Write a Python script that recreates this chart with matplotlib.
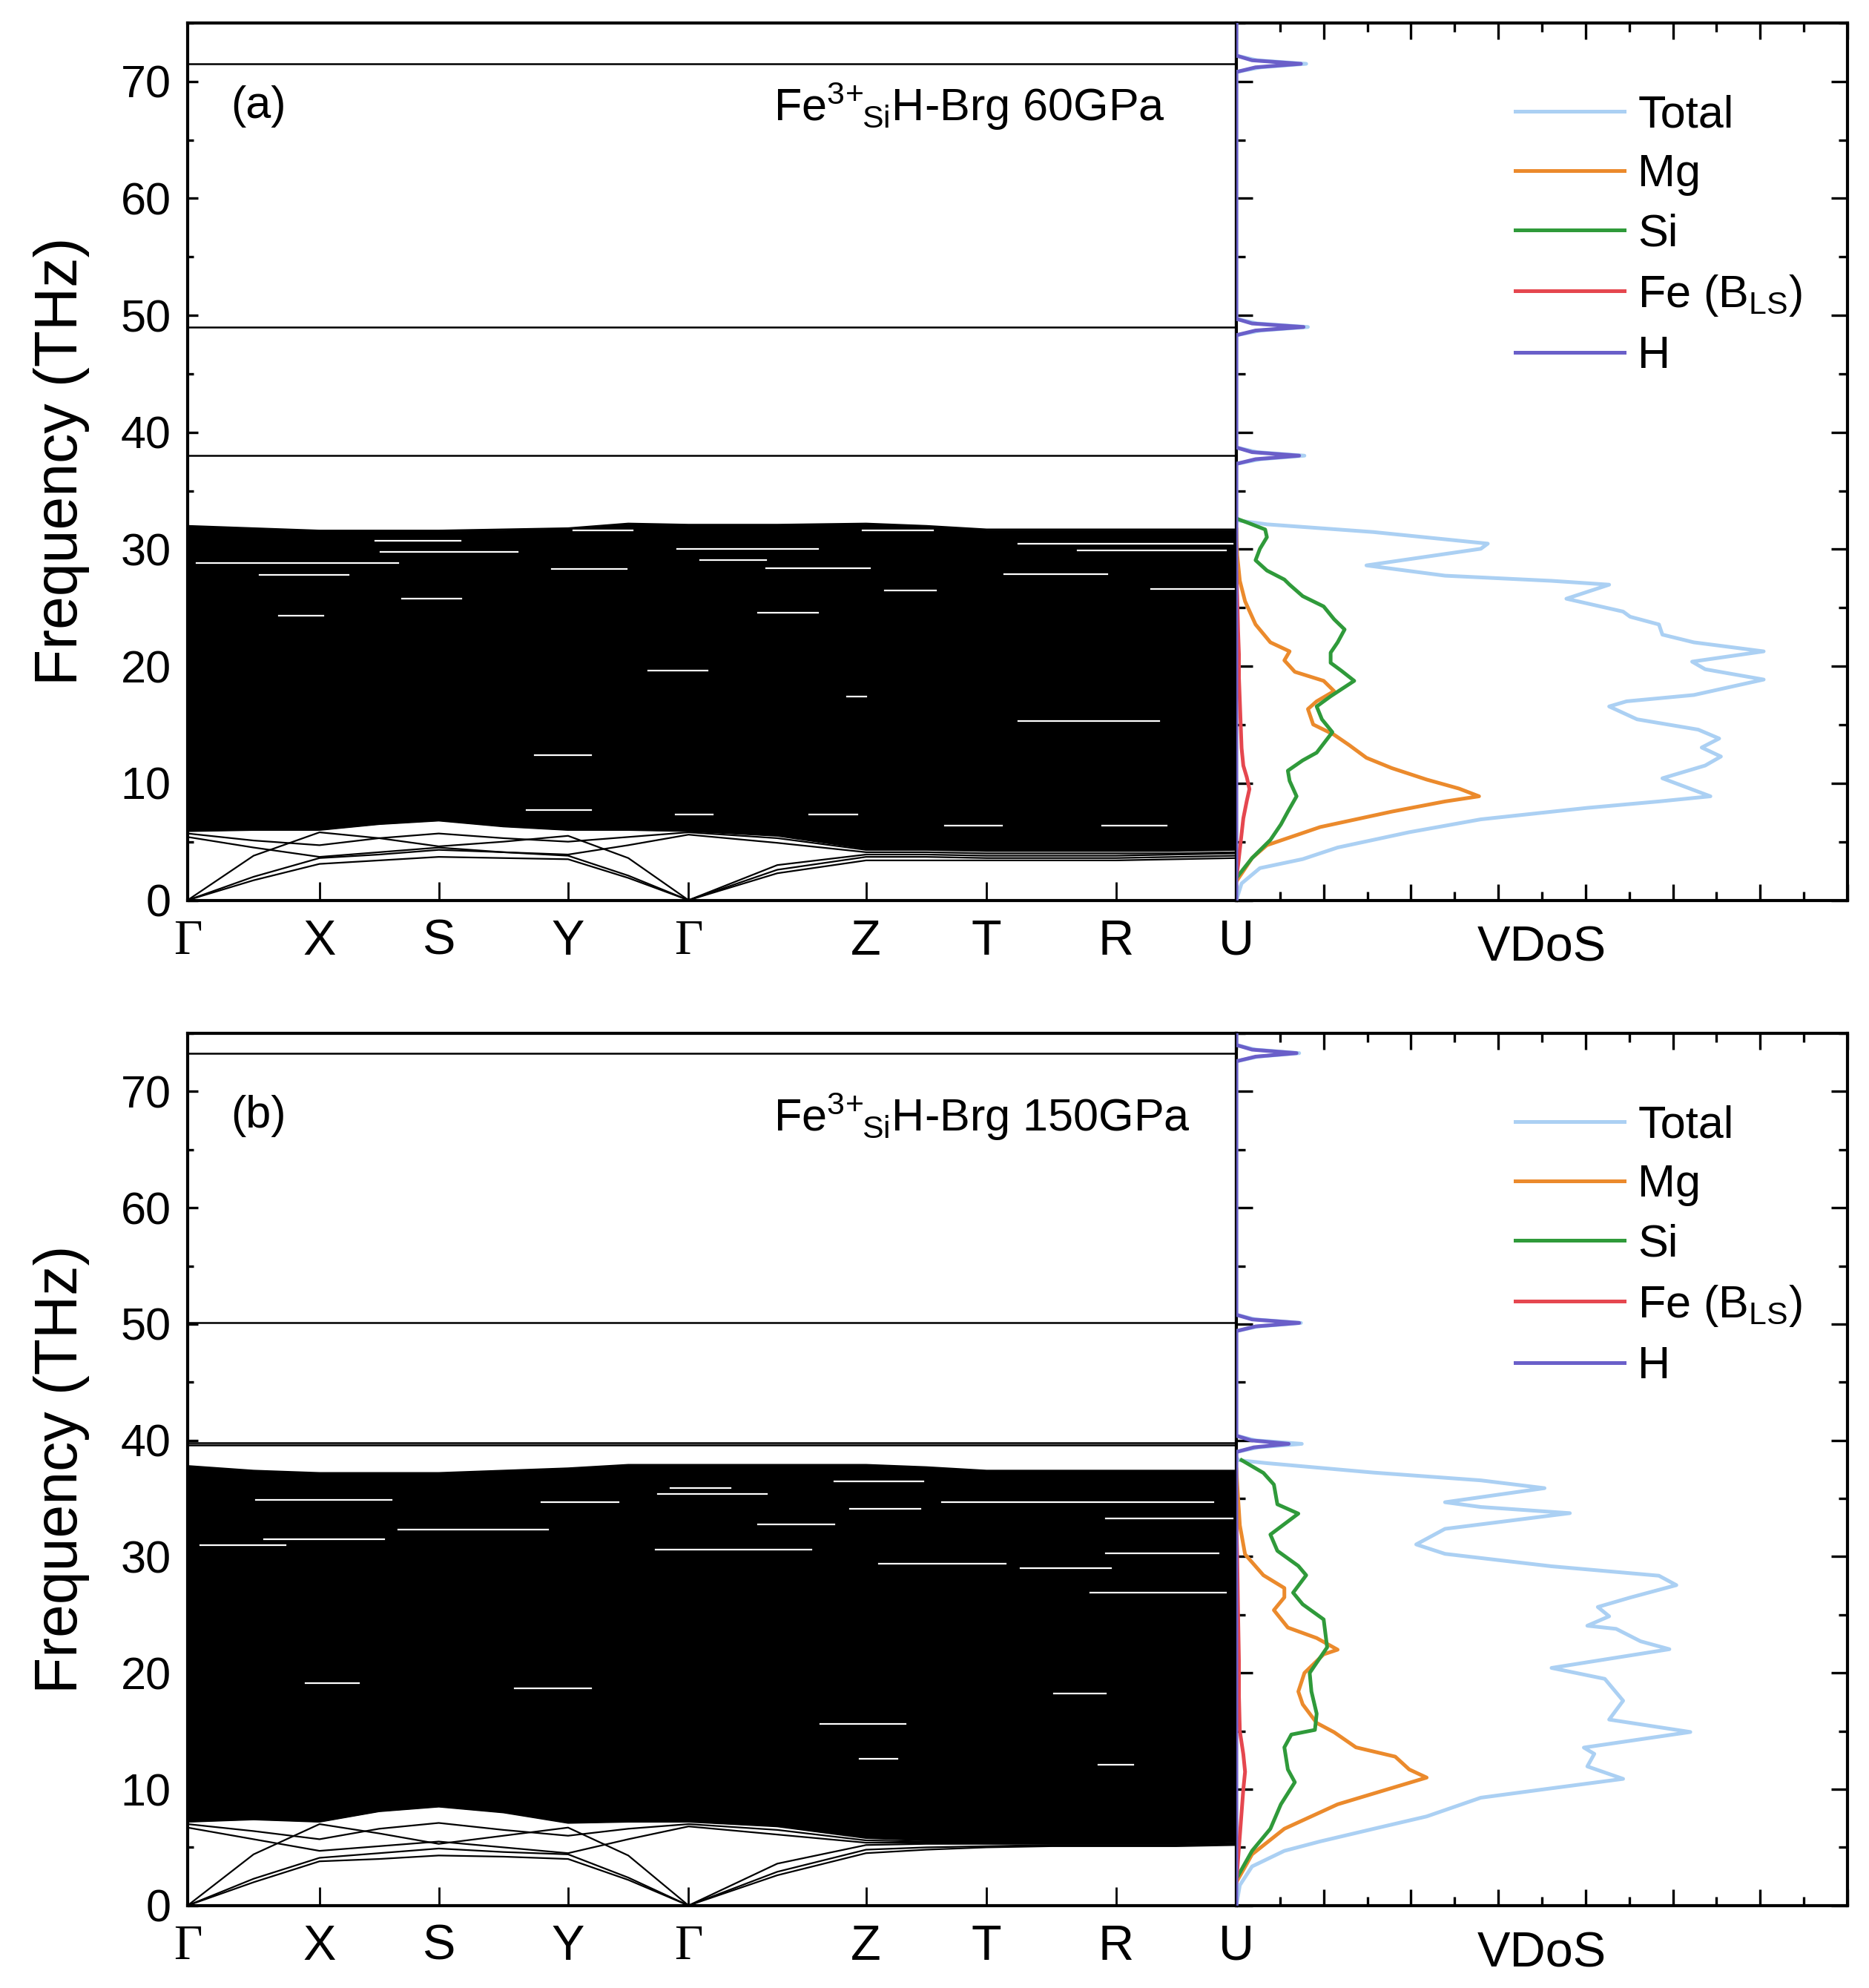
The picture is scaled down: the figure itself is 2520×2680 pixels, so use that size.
import numpy as np
import matplotlib
matplotlib.use("Agg")
import matplotlib.pyplot as plt
from matplotlib.ticker import MultipleLocator

plt.rcParams['font.family'] = ['Liberation Sans', 'DejaVu Sans']
plt.rcParams['mathtext.fontset'] = 'custom'
plt.rcParams['mathtext.rm'] = 'Liberation Sans'
plt.rcParams['mathtext.it'] = 'Liberation Sans:italic'
plt.rcParams['mathtext.bf'] = 'Liberation Sans:bold'

# ---------------- high-symmetry path ----------------
kpath_labels = ['Γ', 'X', 'S', 'Y', 'Γ', 'Z', 'T', 'R', 'U']
kpath_pos = [0, 1.04, 1.98, 3.00, 3.95, 5.35, 6.30, 7.32, 8.27]

# ---------------- (a) 60 GPa : phonon bands ----------------
# band values at the 17 nodes (high-symmetry points + segment midpoints)
bands_low_a = [
    [0, 1.7, 3.1, 3.4, 3.7, 3.6, 3.5, 1.9, 0, 2.3, 3.4, 3.4, 3.4, 3.4, 3.4, 3.5, 3.6],
    [0, 2.0, 3.6, 3.9, 4.3, 4.1, 3.8, 2.1, 0, 2.6, 3.7, 3.7, 3.6, 3.6, 3.6, 3.7, 3.8],
    [0, 3.8, 5.8, 5.3, 4.6, 5.0, 5.5, 3.6, 0, 3.0, 3.9, 3.9, 3.8, 3.8, 3.8, 3.9, 4.0],
    [5.4, 4.5, 3.7, 4.1, 4.5, 4.1, 3.9, 4.7, 5.6, 4.9, 4.1, 4.1, 4.0, 4.0, 4.0, 4.0, 4.1],
    [5.7, 5.1, 4.7, 5.3, 5.7, 5.3, 5.0, 5.4, 5.8, 5.3, 4.3, 4.3, 4.2, 4.2, 4.2, 4.2, 4.3],
]
block_low_a = [5.9, 6.0, 6.0, 6.5, 6.8, 6.3, 6.0, 6.0, 5.9, 5.5, 4.4, 4.4, 4.3, 4.3, 4.3, 4.3, 4.4]
block_top_a = [32.0, 31.8, 31.6, 31.6, 31.6, 31.7, 31.8, 32.2, 32.1, 32.1, 32.2, 32.0, 31.7, 31.7, 31.7, 31.7, 31.7]
flat_a = [38.0, 49.0, 71.5]
# small gaps inside the dense band region: (k start, k end, frequency)
gaps_a = [
    (1.48, 2.15, 30.7), (1.52, 2.60, 29.8), (0.07, 1.66, 28.8), (0.57, 1.27, 27.8),
    (3.86, 4.97, 30.0), (4.04, 4.56, 29.1), (4.56, 5.38, 28.4), (5.32, 5.88, 31.6),
    (6.55, 8.24, 30.5), (7.02, 8.19, 29.9), (6.44, 7.25, 27.9), (7.60, 8.27, 26.6),
    (2.87, 3.46, 28.3), (3.04, 3.51, 31.6), (0.72, 1.07, 24.3), (1.69, 2.16, 25.8),
    (4.50, 4.97, 24.6), (5.50, 5.90, 26.5), (2.74, 3.18, 12.4), (3.63, 4.10, 19.6),
    (6.55, 7.66, 15.3), (5.20, 5.35, 17.4), (2.67, 3.18, 7.7), (4.90, 5.28, 7.3),
    (5.97, 6.42, 6.4), (7.21, 7.72, 6.4), (3.85, 4.14, 7.3),
]

# ---------------- (a) 60 GPa : VDoS ----------------
tot_f_a = [0, 1.43, 2.74, 3.51, 4.50, 5.81, 6.91, 7.89, 8.44, 8.88, 10.42, 11.51, 12.28, 13.05,
           13.82, 14.58, 15.46, 16.56, 17.0, 17.54, 18.86, 19.74, 20.39, 21.27, 22.04, 22.70,
           23.57, 24.23, 24.67, 25.77, 26.97, 27.30, 27.74, 28.62, 30.04, 30.48, 31.47, 32.13,
           32.46, 32.8, 37.3, 37.7, 38.0, 38.3, 38.7, 48.3, 48.7, 49.0, 49.3, 49.7, 70.8, 71.2,
           71.5, 71.8, 72.2, 75]
tot_d_a = [0, 0.06, 0.27, 0.76, 1.16, 1.98, 2.80, 4.02, 4.84, 5.43, 4.88, 5.37, 5.55, 5.33,
           5.53, 5.29, 4.59, 4.27, 4.47, 5.24, 6.04, 5.37, 5.22, 6.04, 5.24, 4.88,
           4.84, 4.51, 4.43, 3.78, 4.27, 3.61, 2.39, 1.49, 2.80, 2.88, 1.57, 0.35,
           0.02, 0, 0, 0.28, 0.78, 0.24, 0, 0, 0.28, 0.82, 0.24, 0, 0, 0.28,
           0.80, 0.24, 0, 0]
mg_f_a = [1.6, 3.6, 4.7, 6.25, 7.57, 8.44, 8.88, 9.54, 10.31, 11.29, 12.17, 13.27, 14.14, 15.02,
          16.34, 17.0, 17.87, 18.75, 19.52, 20.50, 21.27, 22.04, 23.57, 25.55, 27.30, 29.5, 31.7]
mg_d_a = [0, 0.18, 0.35, 0.96, 1.78, 2.39, 2.78, 2.55, 2.18, 1.78, 1.49, 1.29, 1.12, 0.88,
          0.82, 0.92, 1.12, 1.0, 0.67, 0.55, 0.61, 0.39, 0.22, 0.10, 0.04, 0.01, 0]
si_f_a = [1.9, 3.6, 5.15, 6.47, 7.57, 8.88, 10.2, 11.07, 11.95, 12.61, 14.36, 15.46, 16.56, 17.43,
          18.75, 19.63, 20.29, 21.16, 22.04, 23.14, 24.01, 25.11, 25.99, 26.97, 27.41, 28.18,
          29.06, 30.04, 31.03, 31.69, 32.24, 32.57]
si_d_a = [0, 0.18, 0.39, 0.51, 0.59, 0.69, 0.61, 0.59, 0.76, 0.92, 1.10, 0.98, 0.92, 1.08,
          1.35, 1.20, 1.08, 1.08, 1.16, 1.24, 1.12, 1.0, 0.76, 0.61, 0.55, 0.35,
          0.22, 0.27, 0.35, 0.33, 0.14, 0.02]
fe_f_a = [2, 3, 5, 7, 8.5, 9.5, 10.5, 11.5, 13, 15, 17, 19, 21, 23, 26, 28]
fe_d_a = [0, 0.02, 0.05, 0.08, 0.12, 0.15, 0.12, 0.08, 0.06, 0.05, 0.04, 0.03, 0.03, 0.02, 0.01, 0]
h_f_a = [0, 37.3, 37.7, 38.0, 38.3, 38.7, 48.3, 48.7, 49.0, 49.3, 49.7, 70.8, 71.2, 71.5, 71.8, 72.2, 75]
h_d_a = [0, 0, 0.22, 0.72, 0.18, 0, 0, 0.22, 0.77, 0.18, 0, 0, 0.22, 0.74, 0.18, 0, 0]

# ---------------- (b) 150 GPa : phonon bands ----------------
bands_low_b = [
    [0, 2.0, 3.8, 4.0, 4.3, 4.2, 4.0, 2.2, 0, 2.6, 4.5, 4.8, 5.0, 5.1, 5.1, 5.1, 5.2],
    [0, 2.3, 4.1, 4.5, 4.9, 4.6, 4.4, 2.4, 0, 2.9, 4.8, 5.0, 5.1, 5.2, 5.2, 5.2, 5.3],
    [0, 4.4, 7.0, 6.2, 5.3, 6.0, 6.7, 4.3, 0, 3.6, 5.2, 5.3, 5.3, 5.3, 5.3, 5.3, 5.4],
    [6.7, 5.7, 4.7, 5.1, 5.5, 5.0, 4.5, 5.7, 6.8, 6.1, 5.4, 5.4, 5.4, 5.4, 5.4, 5.4, 5.5],
    [7.0, 6.4, 5.7, 6.6, 7.1, 6.5, 6.0, 6.6, 7.0, 6.5, 5.6, 5.5, 5.5, 5.5, 5.5, 5.5, 5.6],
]
block_low_b = [7.2, 7.4, 7.2, 8.1, 8.5, 8.0, 7.1, 7.2, 7.2, 6.8, 5.8, 5.6, 5.5, 5.5, 5.5, 5.5, 5.6]
block_top_b = [37.8, 37.4, 37.2, 37.2, 37.2, 37.4, 37.6, 37.9, 37.9, 37.9, 37.9, 37.7, 37.4, 37.4, 37.4, 37.4, 37.4]
flat_b = [39.6, 39.8, 50.1, 73.3]
gaps_b = [
    (0.54, 1.61, 34.9), (2.79, 3.40, 34.7), (3.71, 4.57, 35.4), (5.10, 5.80, 36.5),
    (5.95, 8.09, 34.7), (5.22, 5.78, 34.1), (1.66, 2.84, 32.3), (0.60, 1.55, 31.5),
    (0.10, 0.77, 31.0), (3.69, 4.92, 30.6), (4.50, 5.10, 32.8), (7.24, 8.24, 33.3),
    (7.24, 8.13, 30.3), (5.45, 6.45, 29.4), (6.57, 7.28, 29.0), (3.81, 4.28, 35.9),
    (7.12, 8.19, 26.9), (4.99, 5.66, 15.6), (2.58, 3.18, 18.7), (0.93, 1.35, 19.1),
    (6.83, 7.24, 18.2), (5.30, 5.60, 12.6), (7.18, 7.46, 12.1),
]

# ---------------- (b) 150 GPa : VDoS ----------------
tot_f_b = [0, 1.75, 3.36, 4.70, 5.51, 6.59, 7.66, 9.27, 10.08, 10.89, 11.96, 13.04, 13.58, 14.92,
           15.99, 17.61, 19.49, 20.43, 22.04, 22.72, 23.79, 24.06, 24.87, 25.67, 26.48, 27.55,
           28.36, 29.17, 30.24, 31.05, 32.39, 33.74, 34.27, 34.68, 35.89, 36.56, 37.23, 38.04,
           38.3, 38.6, 39.0, 39.4, 39.7, 40.0, 40.4, 49.4, 49.8, 50.1, 50.4, 50.8, 72.6, 73.0,
           73.3, 73.6, 74.0, 75]
tot_d_b = [0, 0.04, 0.18, 0.55, 0.96, 1.57, 2.18, 2.80, 3.61, 4.43, 4.02, 4.10, 3.98, 5.20,
           4.27, 4.43, 4.22, 3.61, 4.96, 4.63, 4.35, 4.02, 4.27, 4.14, 4.51, 5.04,
           4.84, 3.61, 2.39, 2.06, 2.39, 3.82, 2.80, 2.39, 3.53, 2.80, 1.57, 0.35,
           0.02, 0, 0, 0.25, 0.75, 0.22, 0, 0, 0.25, 0.74, 0.22, 0, 0, 0.25,
           0.72, 0.22, 0, 0]
mg_f_b = [2.0, 4.4, 6.6, 8.7, 10.1, 11.0, 11.7, 12.8, 13.6, 14.9, 15.7, 17.3, 18.4, 20.0, 21.6,
          22.0, 23.0, 23.9, 25.4, 26.5, 27.3, 28.4, 30.2, 32.7, 36.2, 37.5]
mg_d_b = [0, 0.18, 0.55, 1.16, 1.78, 2.18, 1.98, 1.82, 1.37, 1.12, 0.92, 0.76, 0.71, 0.78, 1.0,
          1.16, 0.92, 0.59, 0.43, 0.55, 0.55, 0.31, 0.10, 0.04, 0.01, 0]
si_f_b = [2.3, 4.7, 6.6, 8.7, 10.6, 11.7, 13.6, 14.7, 15.1, 16.5, 18.4, 20.0, 22.2, 24.6, 25.9,
          26.9, 28.4, 29.2, 30.5, 31.9, 33.7, 34.5, 36.2, 37.2, 38.3]
si_d_b = [0, 0.18, 0.39, 0.51, 0.67, 0.59, 0.55, 0.63, 0.90, 0.92, 0.86, 0.84, 1.04, 1.0, 0.76,
          0.65, 0.80, 0.71, 0.47, 0.39, 0.71, 0.47, 0.43, 0.31, 0.06]
fe_f_b = [2, 3, 6, 8, 10, 11.5, 13, 15, 18, 21, 25, 30, 33]
fe_d_b = [0, 0.01, 0.04, 0.06, 0.08, 0.10, 0.08, 0.04, 0.03, 0.03, 0.02, 0.01, 0]
h_f_b = [0, 39.0, 39.4, 39.7, 40.0, 40.4, 49.4, 49.8, 50.1, 50.4, 50.8, 72.6, 73.0, 73.3, 73.6, 74.0, 75]
h_d_b = [0, 0, 0.2, 0.6, 0.17, 0, 0, 0.22, 0.72, 0.18, 0, 0, 0.22, 0.69, 0.18, 0, 0]

c_tot = '#abd0f3'
c_mg = '#eb8a2c'
c_si = '#2f9a3a'
c_fe = '#e5474f'
c_h = '#6a5fc9'

# node positions: high-symmetry points plus the midpoint of each segment
kp = np.array(kpath_pos)
knodes = np.empty(2 * len(kp) - 1)
knodes[0::2] = kp
knodes[1::2] = 0.5 * (kp[:-1] + kp[1:])


def draw_bands(ax, bands, low, top, flats, gaps):
    ax.fill_between(knodes, low, top, color='k', lw=0, zorder=1)
    ax.plot(knodes, top, color='k', lw=0.8, zorder=1)
    ax.plot(knodes, low, color='k', lw=0.8, zorder=1)
    for b in bands:
        ax.plot(knodes, b, color='k', lw=0.8, zorder=2)
    for f in flats:
        ax.axhline(f, color='k', lw=0.9, zorder=2)
    for k0, k1, f in gaps:
        ax.plot([k0, k1], [f, f], color='white', lw=0.8, zorder=2)
    ax.set_xlim(kpath_pos[0], kpath_pos[-1])
    ax.set_ylim(0, 75)
    ax.set_xticks(kpath_pos)
    ax.set_xticklabels(kpath_labels)
    for t in ax.get_xticklabels():
        if t.get_text() == 'Γ':
            t.set_fontfamily('Liberation Serif')
    ax.yaxis.set_major_locator(MultipleLocator(10))
    ax.yaxis.set_minor_locator(MultipleLocator(5))
    ax.tick_params(axis='x', direction='in', length=9, width=1.0, labelsize=24, pad=9,
                   top=False, bottom=True)
    ax.tick_params(axis='y', which='major', direction='in', length=5, width=1.2,
                   labelsize=22, pad=8, left=True, right=False)
    ax.tick_params(axis='y', which='minor', direction='in', length=3, width=1.2,
                   left=True, right=False)
    ax.set_ylabel('Frequency (THz)', fontsize=29, labelpad=15)
    for s in ax.spines.values():
        s.set_linewidth(1.5)


def draw_dos(ax, curves):
    for f, d, c, lab in curves:
        ax.plot(d, f, color=c, lw=1.8, label=lab, zorder=3)
    ax.set_xlim(0, 7)
    ax.set_ylim(0, 75)
    ax.xaxis.set_major_locator(MultipleLocator(1))
    ax.xaxis.set_minor_locator(MultipleLocator(0.5))
    ax.yaxis.set_major_locator(MultipleLocator(10))
    ax.yaxis.set_minor_locator(MultipleLocator(5))
    ax.tick_params(which='major', direction='in', length=8, width=1.2,
                   top=True, bottom=True, left=True, right=True,
                   labelbottom=False, labelleft=False)
    ax.tick_params(which='minor', direction='in', length=4.4, width=1.2,
                   top=True, bottom=True, left=True, right=True)
    ax.set_xlabel('VDoS', fontsize=24, labelpad=9)
    for s in ax.spines.values():
        s.set_linewidth(1.5)
    ax.legend(loc='upper left', bbox_to_anchor=(0.39, 0.965), frameon=False, fontsize=22,
              handlelength=2.4, handletextpad=0.3, labelspacing=0.38)


fig = plt.figure(figsize=(12.6, 13.4), dpi=200)

panels = [
    ([0.1004, 0.5472, 0.5611, 0.4413], [0.6615, 0.5472, 0.3270, 0.4413],
     bands_low_a, block_low_a, block_top_a, flat_a, gaps_a,
     [(tot_f_a, tot_d_a, c_tot, 'Total'), (mg_f_a, mg_d_a, c_mg, 'Mg'),
      (si_f_a, si_d_a, c_si, 'Si'), (fe_f_a, fe_d_a, c_fe, 'Fe (B$_{\\rm LS}$)'),
      (h_f_a, h_d_a, c_h, 'H')],
     '(a)', 'Fe$^{3\\!+\\!\\!}$$_{\\rm Si}$H-Brg 60GPa'),
    ([0.1004, 0.0415, 0.5611, 0.4387], [0.6615, 0.0415, 0.3270, 0.4387],
     bands_low_b, block_low_b, block_top_b, flat_b, gaps_b,
     [(tot_f_b, tot_d_b, c_tot, 'Total'), (mg_f_b, mg_d_b, c_mg, 'Mg'),
      (si_f_b, si_d_b, c_si, 'Si'), (fe_f_b, fe_d_b, c_fe, 'Fe (B$_{\\rm LS}$)'),
      (h_f_b, h_d_b, c_h, 'H')],
     '(b)', 'Fe$^{3\\!+\\!\\!}$$_{\\rm Si}$H-Brg 150GPa'),
]

for rect_b, rect_d, bands, low, top, flats, gaps, curves, tag, title in panels:
    axb = fig.add_axes(rect_b)
    draw_bands(axb, bands, low, top, flats, gaps)
    axb.text(0.041, 0.905, tag, transform=axb.transAxes, fontsize=22, ha='left', va='center')
    axb.text(0.559, 0.905, title, transform=axb.transAxes, fontsize=22, ha='left', va='center')
    axd = fig.add_axes(rect_d)
    draw_dos(axd, curves)

fig.savefig('out.png', dpi=200)
